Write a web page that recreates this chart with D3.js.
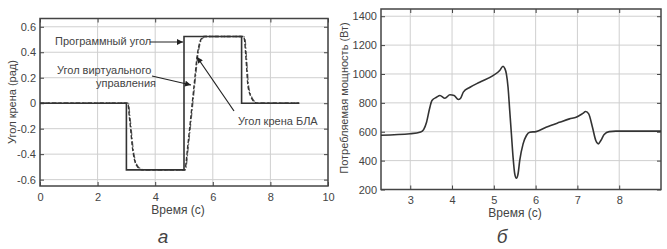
<!DOCTYPE html>
<html><head><meta charset="utf-8">
<script src="https://cdn.jsdelivr.net/npm/d3@7"></script>
<style>
body{margin:0;background:#fff;}
svg{display:block;}
text{font-family:"Liberation Sans",Arial,sans-serif;fill:#444;}
</style></head>
<body><svg id="c" width="667" height="249"></svg>
<script>
// ---------- Data: panel (а) ----------
const angleTicksX = [0, 2, 4, 6, 8, 10];
const angleTicksY = [-0.6, -0.4, -0.2, 0, 0.2, 0.4, 0.6];
const progTime  = [0, 3, 3, 5, 5, 7, 7, 9];
const progAngle = [0, 0, -0.5236, -0.5236, 0.5236, 0.5236, 0, 0];
const virtTime  = [0, 3.05, 3.1, 3.15, 3.2, 3.25, 3.3, 3.38, 3.45, 3.55, 5.03, 5.06, 5.12, 5.2, 5.3, 5.4, 5.45, 5.5, 5.55, 5.6, 5.68, 7.05, 7.1, 7.14, 7.18, 7.21, 7.25, 7.3, 7.37, 7.45, 7.55, 9];
const virtAngle = [0, 0, -0.1, -0.21, -0.33, -0.41, -0.46, -0.497, -0.512, -0.5236, -0.5236, -0.49, -0.36, -0.19, 0.03, 0.25, 0.36, 0.43, 0.48, 0.505, 0.5236, 0.5236, 0.5, 0.39, 0.26, 0.16, 0.1, 0.065, 0.03, 0.01, 0, 0];
const uavTime   = [0, 3.07, 3.12, 3.17, 3.22, 3.27, 3.32, 3.4, 3.48, 3.6, 5.05, 5.08, 5.14, 5.22, 5.32, 5.42, 5.47, 5.52, 5.57, 5.63, 5.72, 7.07, 7.12, 7.16, 7.2, 7.23, 7.27, 7.32, 7.39, 7.47, 7.58, 9];
const uavAngle  = virtAngle;

// ---------- Data: panel (б) ----------
const powerTicksX = [3, 4, 5, 6, 7, 8];
const powerTicksY = [200, 400, 600, 800, 1000, 1200, 1400];
const powerTime  = [2.3, 3.0, 3.25, 3.32, 3.39, 3.47, 3.52, 3.63, 3.71, 3.83, 3.95, 4.05, 4.15, 4.2, 4.27, 4.43, 4.66, 4.98, 5.14, 5.22, 5.26, 5.30, 5.34, 5.38, 5.42, 5.46, 5.50, 5.54, 5.58, 5.62, 5.70, 5.78, 5.86, 6.01, 6.25, 6.57, 6.81, 6.97, 7.12, 7.20, 7.27, 7.36, 7.44, 7.50, 7.56, 7.64, 7.76, 7.92, 9.0];
const powerValue = [576, 586, 598, 615, 666, 770, 816, 839, 851, 832, 856, 851, 823, 830, 874, 908, 943, 989, 1024, 1054, 1040, 1001, 908, 747, 586, 424, 309, 278, 309, 401, 516, 574, 597, 601, 631, 665, 689, 701, 725, 740, 724, 631, 539, 516, 539, 581, 601, 604, 604];

const svg = d3.select("#c");
const INK = "#444", LINE = "#333", GRID = "#cfcfcf";

function panel(o) {
  const g = svg.append("g");
  const x = d3.scaleLinear().domain(o.xd).range([o.l, o.r]);
  const y = d3.scaleLinear().domain(o.yd).range([o.b, o.t]);
  g.selectAll(".gx").data(o.tx).enter().append("line")
    .attr("x1", d => x(d)).attr("x2", d => x(d)).attr("y1", o.t).attr("y2", o.b)
    .attr("stroke", GRID).attr("stroke-width", 1);
  g.selectAll(".gy").data(o.ty).enter().append("line")
    .attr("y1", d => y(d)).attr("y2", d => y(d)).attr("x1", o.l).attr("x2", o.r)
    .attr("stroke", GRID).attr("stroke-width", 1);
  const ax = [
    d3.axisBottom(x).tickValues(o.tx).tickSize(-4).tickFormat(o.fx),
    d3.axisTop(x).tickValues(o.tx).tickSize(-4).tickFormat(""),
    d3.axisLeft(y).tickValues(o.ty).tickSize(-4).tickFormat(o.fy),
    d3.axisRight(y).tickValues(o.ty).tickSize(-4).tickFormat("")
  ];
  const pos = [`translate(0,${o.b})`, `translate(0,${o.t})`, `translate(${o.l},0)`, `translate(${o.r},0)`];
  ax.forEach((a, i) => {
    const ag = g.append("g").attr("transform", pos[i]).call(a);
    ag.select(".domain").remove();
    ag.selectAll("line").attr("stroke", INK).attr("stroke-width", 1);
    ag.selectAll("text").attr("font-size", 11).attr("fill", INK)
      .attr("font-family", "Liberation Sans, Arial, sans-serif");
    if (i === 0) ag.selectAll("text").attr("dy", "0.71em").attr("y", 7);
    if (i === 2) ag.selectAll("text").attr("x", -4);
  });
  g.append("rect").attr("x", o.l).attr("y", o.t).attr("width", o.r - o.l).attr("height", o.b - o.t)
    .attr("fill", "none").attr("stroke", INK).attr("stroke-width", 1.5);
  return { g, x, y };
}

// ---------- Panel а ----------
const A = panel({ l: 40, r: 328, t: 18.5, b: 186, xd: [0, 10], yd: [-0.65, 0.665],
  tx: angleTicksX, ty: angleTicksY, fx: d3.format("d"), fy: d => d === 0 ? "0" : d3.format(".1f")(d).replace("−", "-") });

const la = d3.line().x(d => A.x(d[0])).y(d => A.y(d[1]));
A.g.append("path").datum(d3.zip(uavTime, uavAngle)).attr("d", la.curve(d3.curveMonotoneX))
  .attr("fill", "none").attr("stroke", "#666").attr("stroke-width", 1.3).attr("stroke-dasharray", "6,2,1.5,2");
A.g.append("path").datum(d3.zip(virtTime, virtAngle)).attr("d", la.curve(d3.curveMonotoneX))
  .attr("fill", "none").attr("stroke", LINE).attr("stroke-width", 1.4).attr("stroke-dasharray", "4,2");
A.g.append("path").datum(d3.zip(progTime, progAngle)).attr("d", la.curve(d3.curveLinear))
  .attr("fill", "none").attr("stroke", LINE).attr("stroke-width", 1.6);

const defs = svg.append("defs");
defs.append("marker").attr("id", "arr").attr("viewBox", "0 0 10 10").attr("refX", 10).attr("refY", 5)
  .attr("markerWidth", 7).attr("markerHeight", 6).attr("markerUnits", "userSpaceOnUse").attr("orient", "auto")
  .append("path").attr("d", "M0,0L10,5L0,10z").attr("fill", "#222");
function note(lines, arrow) {
  lines.forEach(t => A.g.append("text").attr("x", t[1]).attr("y", t[2]).attr("font-size", 11)
    .attr("fill", "#333").attr("dominant-baseline", "middle").text(t[0]));
  A.g.append("line").attr("x1", arrow[0]).attr("y1", arrow[1]).attr("x2", arrow[2]).attr("y2", arrow[3])
    .attr("stroke", "#222").attr("stroke-width", 1.2).attr("marker-end", "url(#arr)");
}
note([["Программный угол", 55, 42]], [150, 42, A.x(5) - 1, 42]);
note([["Угол виртуального", 57, 71], ["управления", 96, 84]], [152, 76, 191, 85]);
note([["Угол крена БЛА", 238, 122]], [234, 111, 197, 57]);

svg.append("text").attr("transform", "translate(13,102) rotate(-90)").attr("text-anchor", "middle")
  .attr("dominant-baseline", "middle").attr("font-size", 11).text("Угол крена (рад)");
svg.append("text").attr("x", (40 + 328) / 2 - 6).attr("y", 211).attr("text-anchor", "middle")
  .attr("dominant-baseline", "middle").attr("font-size", 12).text("Время (с)");
svg.append("text").attr("x", 163).attr("y", 243).attr("text-anchor", "middle")
  .attr("font-family", "Liberation Serif, serif").attr("font-style", "italic").attr("font-size", 19).attr("fill", "#222").text("а");

// ---------- Panel б ----------
const B = panel({ l: 381, r: 661, t: 9, b: 189.5, xd: [2.3, 9], yd: [200, 1450],
  tx: powerTicksX, ty: powerTicksY, fx: d3.format("d"), fy: d3.format("d") });
const lb = d3.line().x(d => B.x(d[0])).y(d => B.y(d[1])).curve(d3.curveMonotoneX);
B.g.append("path").datum(d3.zip(powerTime, powerValue)).attr("d", lb)
  .attr("fill", "none").attr("stroke", LINE).attr("stroke-width", 1.6);

svg.append("text").attr("transform", "translate(345,98) rotate(-90)").attr("text-anchor", "middle")
  .attr("dominant-baseline", "middle").attr("font-size", 11).text("Потребляемая мощность (Вт)");
svg.append("text").attr("x", 515).attr("y", 214).attr("text-anchor", "middle")
  .attr("dominant-baseline", "middle").attr("font-size", 12).text("Время (с)");
svg.append("text").attr("x", 502).attr("y", 243).attr("text-anchor", "middle")
  .attr("font-family", "Liberation Serif, serif").attr("font-style", "italic").attr("font-size", 19).attr("fill", "#222").text("б");
</script></body></html>
